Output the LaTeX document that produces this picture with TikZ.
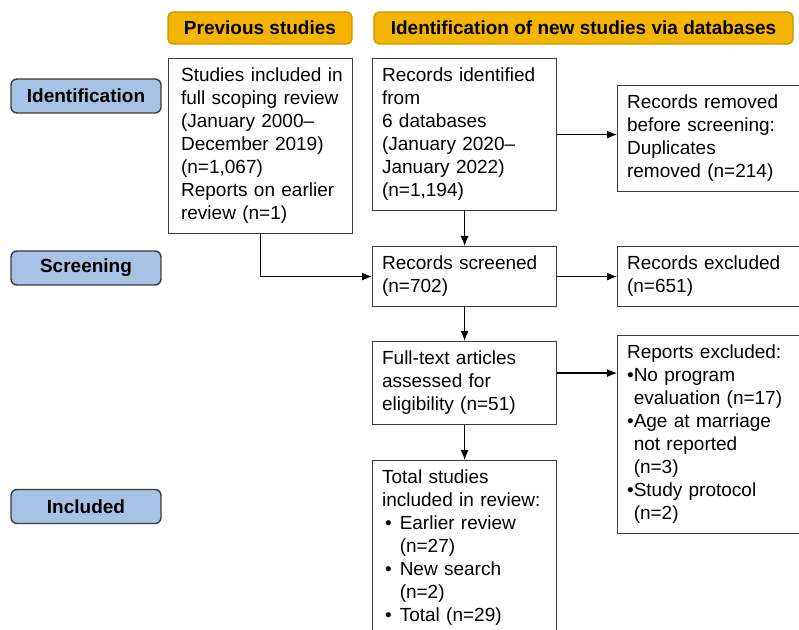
\documentclass[tikz,border=0pt]{standalone}
\usepackage{fontspec}
\setmainfont{Liberation Sans}
\usetikzlibrary{arrows.meta}
\definecolor{hdrorange}{HTML}{F5B400}
\definecolor{hdredge}{HTML}{C99300}
\definecolor{stageblue}{HTML}{A6C3E6}
\definecolor{boxedge}{HTML}{3C3C3C}

\begin{document}
\begin{tikzpicture}[x=0.5pt,y=-0.5pt,
every node/.style={font=\fontsize{9.5}{11.5}\selectfont},
header/.style={draw=hdredge,fill=hdrorange,rounded corners=2.5pt,line width=0.6pt,
 minimum height=16pt,inner sep=0pt,font=\fontsize{9.5}{11.5}\selectfont\bfseries},
stage/.style={draw=boxedge,fill=stageblue,rounded corners=3pt,line width=0.7pt,
 minimum width=75pt,minimum height=17pt,inner sep=0pt,font=\fontsize{9.5}{11.5}\selectfont\bfseries},
item/.style={draw=boxedge,line width=0.6pt,anchor=north west,align=left,text width=82.5pt,
 inner xsep=4.75pt,inner ysep=3.5pt,execute at begin node=\strut,execute at end node=\strut},
link/.style={-{Latex[length=5pt,width=4pt]},line width=0.6pt}]
 \clip (0,0) rectangle (799,630);
 \fill[white] (0,0) rectangle (799,630);

 % column headers
 \node[header,minimum width=92pt] (hdrPrev) at (260,28) {Previous studies};
 \node[header,minimum width=209.5pt] (hdrNew) at (583.5,28) {Identification of new studies via databases};

 % stages
 \node[stage] (labId) at (86,96) {Identification};
 \node[stage] (labScr) at (86,268) {Screening};
 \node[stage] (labInc) at (86,506.5) {Included};

 \node[item] (prev) at (168,58) {\hspace*{1.5pt}Studies included in\\\hspace*{1.5pt}full scoping review\\\hspace*{1.5pt}(January 2000–\\\hspace*{1.5pt}December 2019)\\\hspace*{1.5pt}(n=1,067)\\\hspace*{1.5pt}Reports on earlier\\\hspace*{1.5pt}review (n=1)};
 \node[item] (ident) at (372,58) {Records identified\\from\\6 databases\\(January 2020–\\January 2022)\\(n=1,194)};
 \node[item] (removed) at (617,85) {Records removed\\before screening:\\Duplicates\\removed (n=214)};
 \node[item] (screened) at (372,246) {Records screened\\(n=702)};
 \node[item] (excluded) at (617,246) {Records excluded\\(n=651)};
 \node[item] (fulltext) at (372,341) {Full-text articles\\assessed for\\eligibility (n=51)};
 \node[item] (repexcl) at (617,335) {Reports excluded:\\•No program\\\hphantom{•}evaluation (n=17)\\•Age at marriage\\\hphantom{•}not reported\\\hphantom{•}(n=3)\\•Study protocol\\\hphantom{•}(n=2)};
 \node[item] (total) at (372,460) {Total studies\\included in review:\\\hspace*{1.5pt}•\hspace{4pt}Earlier review\\\hphantom{\hspace*{1.5pt}•\hspace{4pt}}(n=27)\\\hspace*{1.5pt}•\hspace{4pt}New search\\\hphantom{\hspace*{1.5pt}•\hspace{4pt}}(n=2)\\\hspace*{1.5pt}•\hspace{4pt}Total (n=29)};

 \draw[link] (prev.south) |- (screened.west);
 \draw[link] (ident.east) -- (ident.east -| removed.west);
 \draw[link] (ident.south) -- (screened.north);
 \draw[link] (screened) -- (excluded);
 \draw[link] (screened.south) -- (fulltext.north);
 \draw[link] ([yshift=5pt]fulltext.east) -- ([yshift=5pt]fulltext.east -| repexcl.west);
 \draw[link] (fulltext.south) -- (total.north);
\end{tikzpicture}
\end{document}
